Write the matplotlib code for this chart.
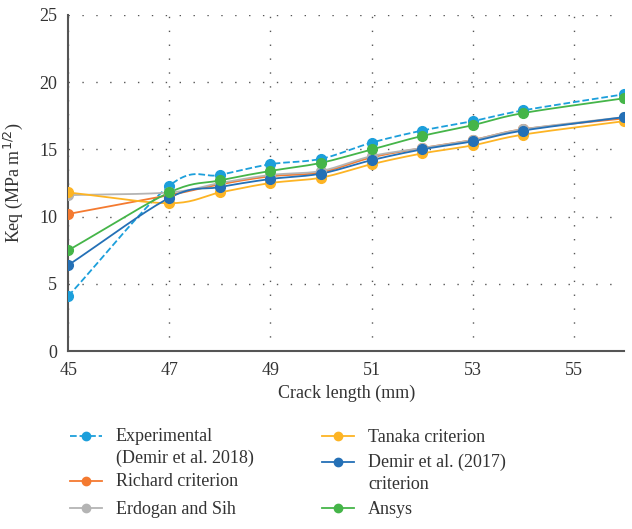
import numpy as np
import matplotlib
matplotlib.use('Agg')
from matplotlib import pyplot as plt
from matplotlib.lines import Line2D

crack = [45, 47, 48, 49, 50, 51, 52, 53, 54, 56]
experimental = [4.1, 12.3, 13.1, 13.9, 14.3, 15.5, 16.4, 17.1, 17.9, 19.1]
richard = [10.2, 11.6, 12.4, 13.0, 13.3, 14.4, 15.1, 15.7, 16.5, 17.3]
erdogan = [11.6, 11.8, 12.5, 13.1, 13.4, 14.5, 15.1, 15.7, 16.5, 17.4]
tanaka = [11.8, 11.0, 11.8, 12.5, 12.9, 13.9, 14.7, 15.3, 16.1, 17.1]
demir = [6.4, 11.4, 12.2, 12.8, 13.2, 14.2, 15.0, 15.6, 16.4, 17.4]
ansys = [7.5, 11.8, 12.7, 13.4, 14.0, 15.0, 16.0, 16.8, 17.7, 18.8]

series = [
    ('Experimental\n(Demir et al. 2018)', experimental, '#1c9fdb', '--'),
    ('Richard criterion', richard, '#f47a30', '-'),
    ('Erdogan and Sih', erdogan, '#b4b4b4', '-'),
    ('Tanaka criterion', tanaka, '#fdb424', '-'),
    ('Demir et al. (2017)\ncriterion', demir, '#2470b6', '-'),
    ('Ansys', ansys, '#45b549', '-'),
]
# legend slots in pixels (x of handle start, y of first line from top)
legend_pos = [(70, 436), (70, 481), (70, 508), (322, 436), (322, 462), (322, 508)]


def smooth(xs, ys, n=20):
    # catmull-rom curve through the points, like the excel smoothed line
    xs = np.asarray(xs, float)
    ys = np.asarray(ys, float)
    px = np.concatenate([[2 * xs[0] - xs[1]], xs, [2 * xs[-1] - xs[-2]]])
    py = np.concatenate([[2 * ys[0] - ys[1]], ys, [2 * ys[-1] - ys[-2]]])
    ox, oy = [], []
    t = np.linspace(0, 1, n)
    for i in range(1, len(px) - 2):
        for p, o in ((px, ox), (py, oy)):
            p0, p1, p2, p3 = p[i - 1], p[i], p[i + 1], p[i + 2]
            o.extend(0.5 * (2 * p1 + (-p0 + p2) * t
                            + (2 * p0 - 5 * p1 + 4 * p2 - p3) * t ** 2
                            + (-p0 + 3 * p1 - 3 * p2 + p3) * t ** 3))
    return ox, oy


plt.rcParams['font.family'] = ['Liberation Serif', 'DejaVu Serif']
W, H = 632, 529
fig = plt.figure(figsize=(W / 100, H / 100), dpi=100)
ax = fig.add_axes([0.108, 0.336, 0.88, 0.636])

for (label, ys, color, ls), (lx, ly) in zip(series, legend_pos):
    sx, sy = smooth(crack, ys)
    ax.plot(sx, sy, color=color, linestyle=ls, linewidth=1.3, zorder=3)
    ax.plot(crack, ys, 'o', color=color, markersize=7, zorder=4)
    # legend entry, handle next to the first text line
    fy = 1 - ly / H
    fig.add_artist(Line2D([lx / W, (lx + 32) / W], [fy, fy], color=color,
                          linestyle=ls, linewidth=1.3,
                          transform=fig.transFigure))
    fig.add_artist(Line2D([(lx + 16) / W], [fy], marker='o', markersize=6,
                          color=color, transform=fig.transFigure))
    if '\n' in label:
        fig.text((lx + 46) / W, fy + 8 / H, label, fontsize=13,
                 color='#333333', va='top', linespacing=1.35)
    else:
        fig.text((lx + 46) / W, fy - 1 / H, label, fontsize=13,
                 color='#333333', va='center')

ax.set_xlim(45, 56)
ax.set_ylim(0, 25)
ax.set_xticks([45, 47, 49, 51, 53, 55])
ax.set_yticks([0, 5, 10, 15, 20, 25])
ax.tick_params(length=0, labelsize=13, colors='#333333', pad=8)
ax.grid(True, color='#555555', linestyle=(0, (1, 9)), linewidth=1)
ax.set_axisbelow(True)
for s in ['top', 'right']:
    ax.spines[s].set_visible(False)
for s in ['left', 'bottom']:
    ax.spines[s].set_color('#555555')
    ax.spines[s].set_linewidth(1.5)
ax.set_xlabel('Crack length (mm)', fontsize=13, color='#333333', labelpad=4)
ax.set_ylabel('Keq (MPa m$^{1/2}$)', fontsize=13, color='#333333', labelpad=10)

fig.savefig('out.png', dpi=100)
